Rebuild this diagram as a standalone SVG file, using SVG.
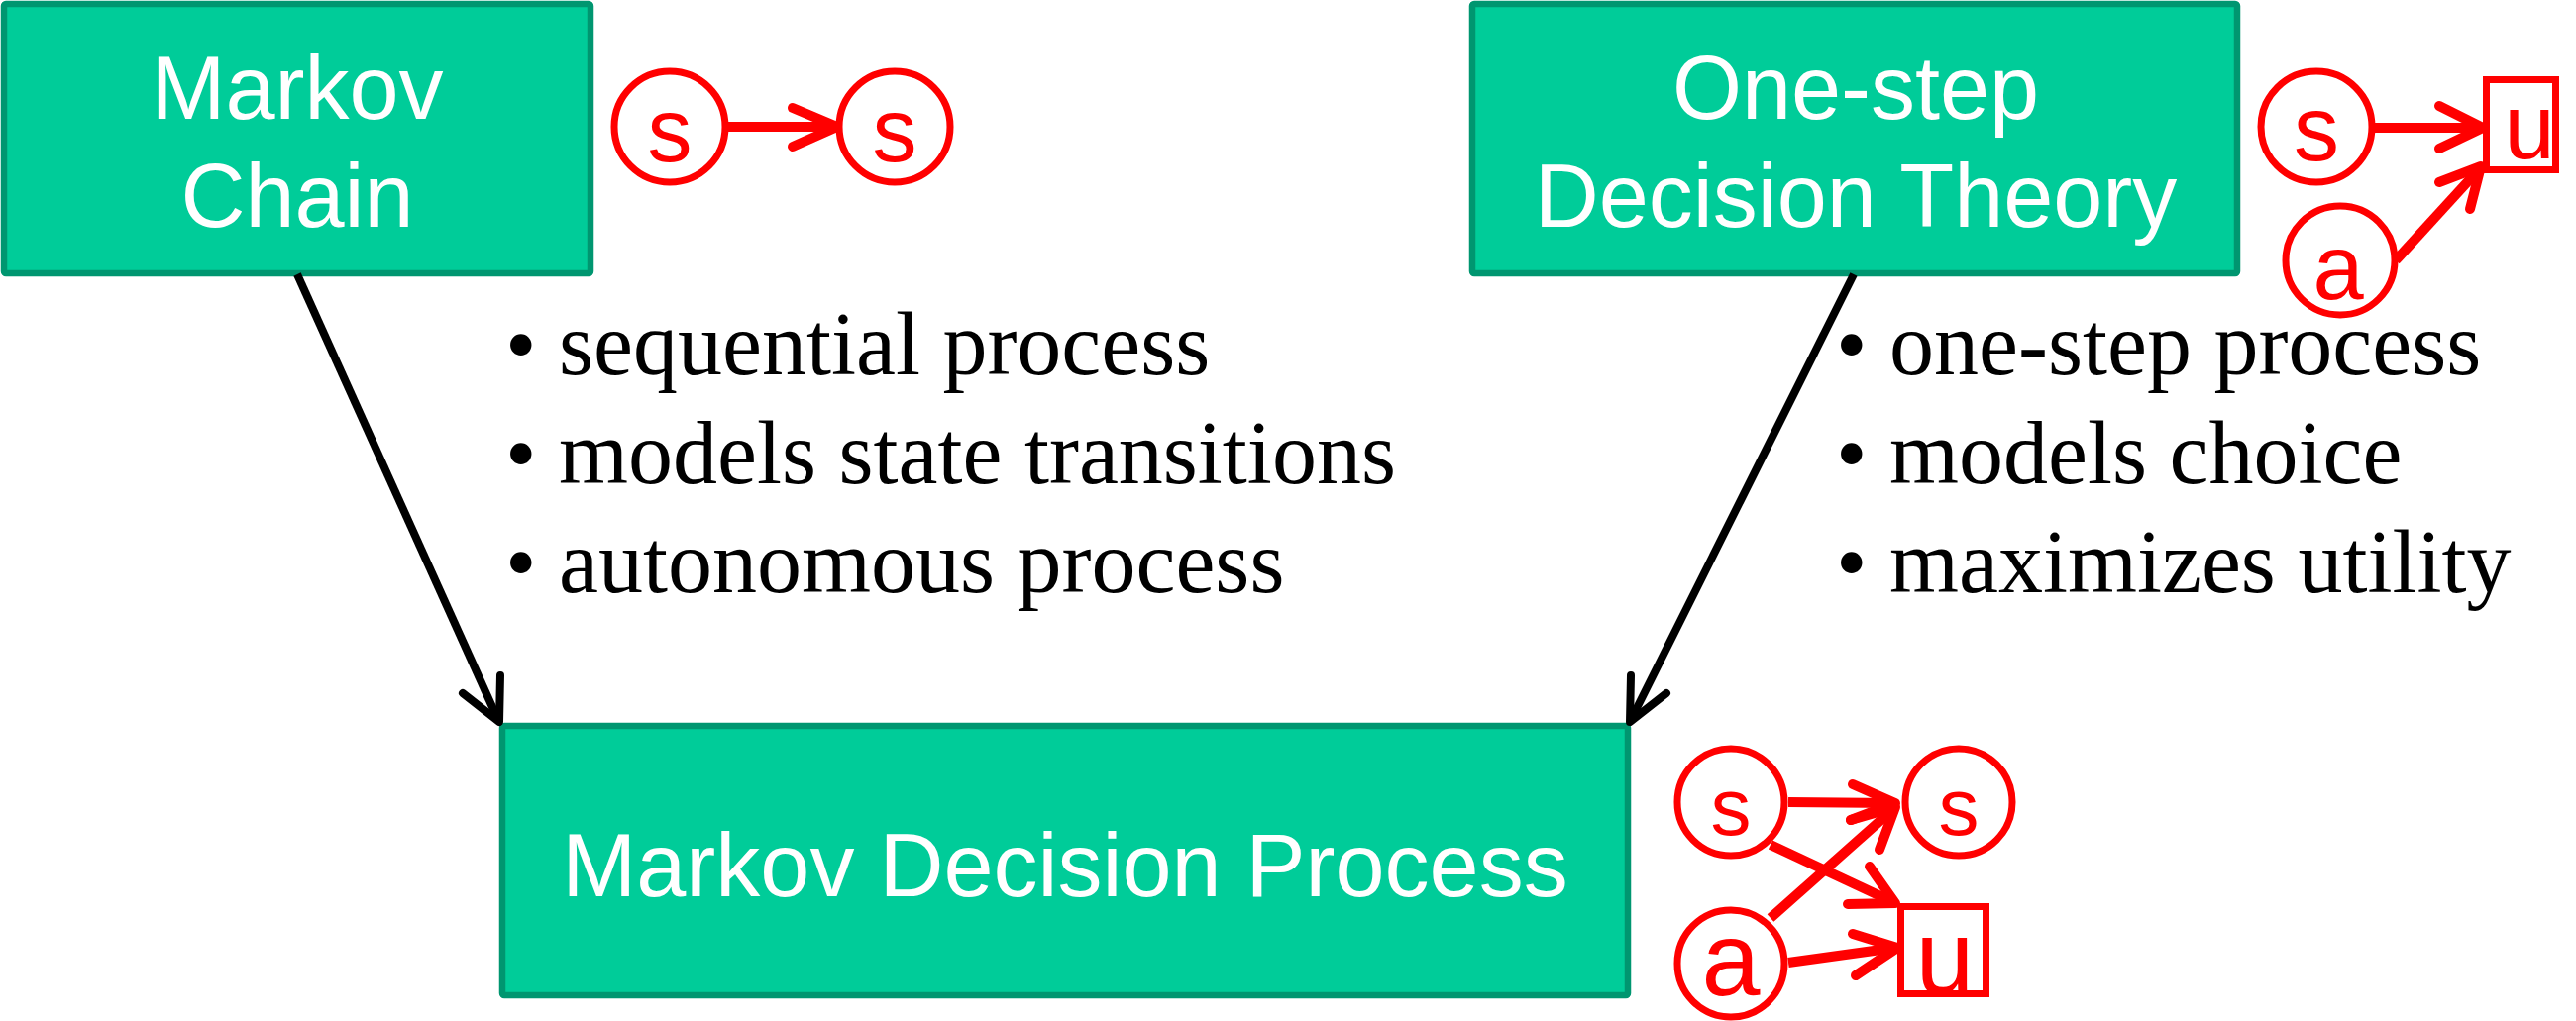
<svg xmlns="http://www.w3.org/2000/svg" width="2600" height="1031" viewBox="0 0 2600 1031">
<style>
.box{fill:#00CC99;stroke:#009670;stroke-width:6.5}
.title{font-family:"Liberation Sans",Arial,sans-serif;font-size:90px;fill:#ffffff;text-anchor:middle}
.bullet{font-family:"Liberation Serif","Times New Roman",serif;font-size:90px;fill:#000000}
.conn{fill:none;stroke:#000000;stroke-width:8}
.head{fill:none;stroke:#000000;stroke-width:8;stroke-linecap:round;stroke-linejoin:round}
.rnode{fill:#ffffff;stroke:#FF0000;stroke-width:7}
.rline{fill:none;stroke:#FF0000;stroke-width:10}
.rhead{fill:none;stroke:#FF0000;stroke-width:10;stroke-linecap:round;stroke-linejoin:round}
.rtext{font-family:"Liberation Sans",Arial,sans-serif;fill:#FF0000;text-anchor:middle}
</style>
<rect width="2600" height="1031" fill="#ffffff"/>

<g id="markov-chain">
<rect class="box" x="4" y="4" width="592" height="272" rx="2"/>
<text class="title" x="300" y="120">Markov</text>
<text class="title" x="300" y="229">Chain</text>
</g>

<g id="one-step-decision-theory">
<rect class="box" x="1486" y="4" width="772" height="272" rx="2"/>
<text class="title" x="1873" y="120">One-step</text>
<text class="title" x="1873" y="229">Decision Theory</text>
</g>

<g id="markov-decision-process">
<rect class="box" x="507" y="733" width="1136" height="272" rx="2"/>
<text class="title" x="1075" y="905">Markov Decision Process</text>
</g>

<g id="markov-chain-bullets">
<text class="bullet" x="510" y="378">• sequential process</text>
<text class="bullet" x="510" y="488">• models state transitions</text>
<text class="bullet" x="510" y="598">• autonomous process</text>
</g>

<g id="decision-theory-bullets">
<text class="bullet" x="1853" y="378">• one-step process</text>
<text class="bullet" x="1853" y="488">• models choice</text>
<text class="bullet" x="1853" y="598">• maximizes utility</text>
</g>

<g id="connectors">
<line class="conn" x1="300" y1="277" x2="502" y2="725"/>
<polyline class="head" points="467,700 504,729 505,682"/>
<line class="conn" x1="1871" y1="277" x2="1647" y2="725"/>
<polyline class="head" points="1646,682 1645,729 1682,700"/>
</g>

<g id="mc-graph">
<line class="rline" x1="735" y1="128" x2="843" y2="128"/>
<polyline class="rhead" points="800,109 845,128 800,148"/>
<circle class="rnode" cx="676" cy="128" r="56"/>
<circle class="rnode" cx="903" cy="128" r="56"/>
<text class="rtext" x="676" y="163" font-size="90">s</text>
<text class="rtext" x="903" y="163" font-size="90">s</text>
</g>

<g id="dt-graph">
<line class="rline" x1="2397" y1="129" x2="2504" y2="129"/>
<polyline class="rhead" points="2462,107 2506,129 2462,150"/>
<line class="rline" x1="2418" y1="263" x2="2503" y2="170"/>
<polyline class="rhead" points="2462,184 2504,168 2493,211"/>
<circle class="rnode" cx="2338" cy="128" r="56"/>
<circle class="rnode" cx="2362" cy="263" r="55"/>
<rect class="rnode" x="2509.5" y="80.5" width="70" height="91"/>
<text class="rtext" x="2338" y="162" font-size="92">s</text>
<text class="rtext" x="2360" y="302" font-size="92">a</text>
<text class="rtext" x="2553" y="160" font-size="92">u</text>
</g>

<g id="mdp-graph">
<line class="rline" x1="1805" y1="810" x2="1911" y2="811"/>
<polyline class="rhead" points="1870,792 1913,811 1868,828"/>
<line class="rline" x1="1787" y1="853" x2="1911" y2="911"/>
<polyline class="rhead" points="1887,875 1913,912 1865,913"/>
<line class="rline" x1="1787" y1="927" x2="1911" y2="817"/>
<polyline class="rhead" points="1868,828 1913,815 1897,858"/>
<line class="rline" x1="1805" y1="972" x2="1913" y2="957"/>
<polyline class="rhead" points="1870,943 1915,957 1873,985"/>
<circle class="rnode" cx="1747" cy="810" r="54"/>
<circle class="rnode" cx="1977" cy="810" r="54"/>
<circle class="rnode" cx="1747" cy="973" r="54"/>
<rect class="rnode" x="1918.5" y="915.5" width="86" height="88"/>
<text class="rtext" x="1747" y="843" font-size="82">s</text>
<text class="rtext" x="1977" y="843" font-size="82">s</text>
<text class="rtext" x="1747" y="1005" font-size="106">a</text>
<text class="rtext" x="1963" y="1003" font-size="106">u</text>
</g>
</svg>
